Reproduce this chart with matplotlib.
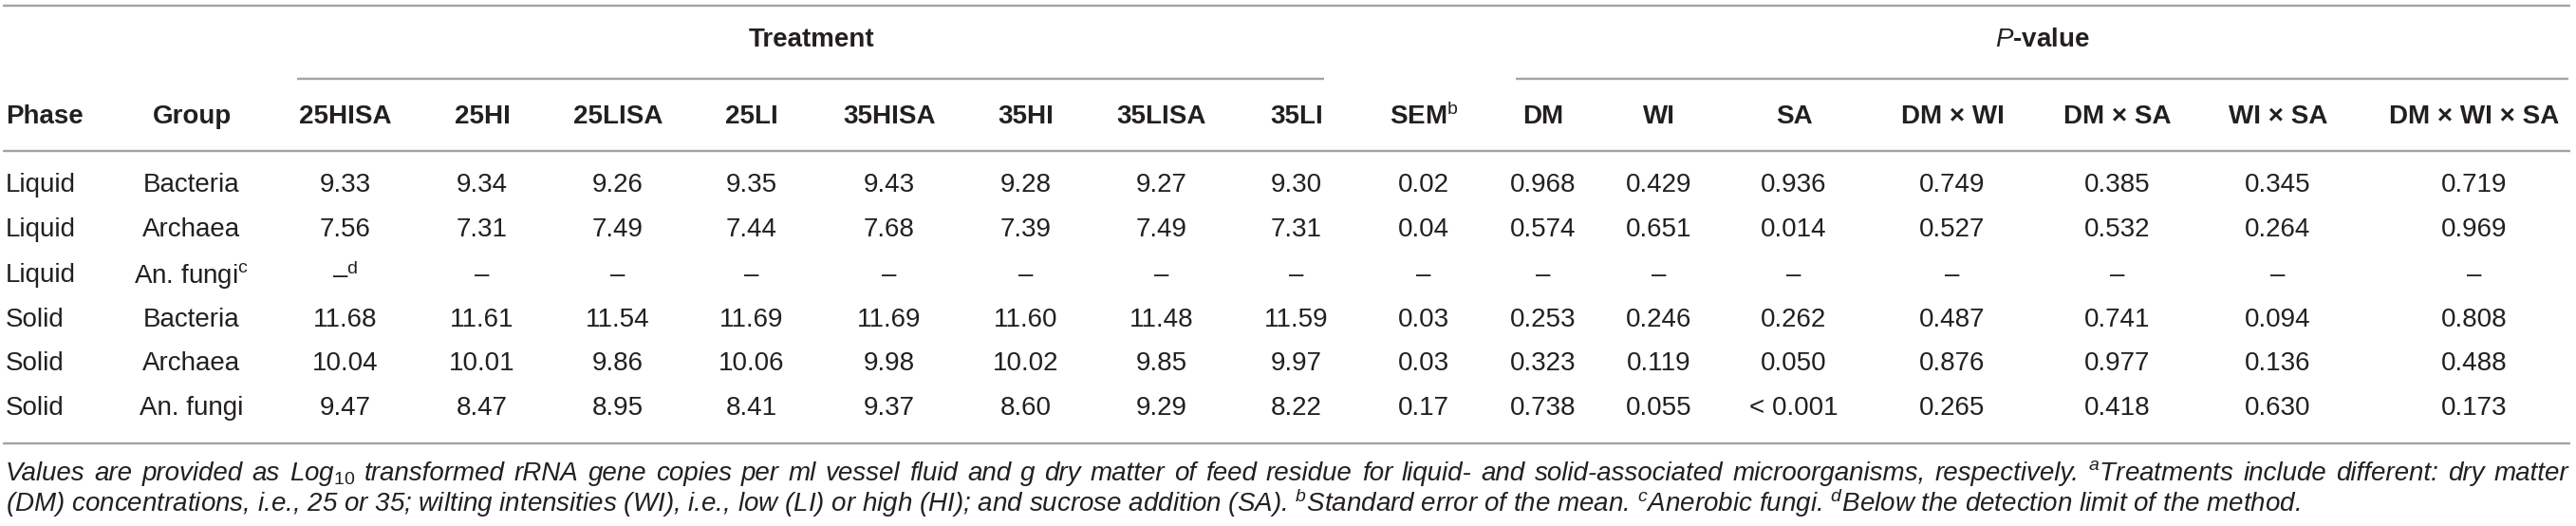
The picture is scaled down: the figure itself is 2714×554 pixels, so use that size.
import matplotlib
matplotlib.use("Agg")
import matplotlib.pyplot as plt

plt.rcParams['font.family'] = ['Liberation Sans', 'DejaVu Sans']
plt.rcParams['mathtext.fontset'] = 'custom'
plt.rcParams['mathtext.rm'] = 'Liberation Sans'
plt.rcParams['mathtext.it'] = 'Liberation Sans:italic'
plt.rcParams['mathtext.bf'] = 'Liberation Sans:bold'

# table data
phases = ["Liquid", "Liquid", "Liquid", "Solid", "Solid", "Solid"]
groups = ["Bacteria", "Archaea", r"An. fungi$^{\mathrm{c}}$", "Bacteria", "Archaea", "An. fungi"]
treatments = ["25HISA", "25HI", "25LISA", "25LI", "35HISA", "35HI", "35LISA", "35LI"]
treat_values = [
    [9.33, 9.34, 9.26, 9.35, 9.43, 9.28, 9.27, 9.30],
    [7.56, 7.31, 7.49, 7.44, 7.68, 7.39, 7.49, 7.31],
    [None] * 8,
    [11.68, 11.61, 11.54, 11.69, 11.69, 11.60, 11.48, 11.59],
    [10.04, 10.01, 9.86, 10.06, 9.98, 10.02, 9.85, 9.97],
    [9.47, 8.47, 8.95, 8.41, 9.37, 8.60, 9.29, 8.22],
]
sem = [0.02, 0.04, None, 0.03, 0.03, 0.17]
p_names = ["DM", "WI", "SA", "DM × WI", "DM × SA", "WI × SA", "DM × WI × SA"]
p_values = [
    ["0.968", "0.429", "0.936", "0.749", "0.385", "0.345", "0.719"],
    ["0.574", "0.651", "0.014", "0.527", "0.532", "0.264", "0.969"],
    ["–", "–", "–", "–", "–", "–", "–"],
    ["0.253", "0.246", "0.262", "0.487", "0.741", "0.094", "0.808"],
    ["0.323", "0.119", "0.050", "0.876", "0.977", "0.136", "0.488"],
    ["0.738", "0.055", "< 0.001", "0.265", "0.418", "0.630", "0.173"],
]
footnote = [
    r"Values are provided as Log$_{\mathit{10}}$ transformed rRNA gene copies per ml vessel fluid and g dry matter "
    r"of feed residue for liquid- and solid-associated microorganisms, respectively. $^{a}$Treatments include different: dry matter",
    r"(DM) concentrations, i.e., 25 or 35; wilting intensities (WI), i.e., low (LI) or high (HI); and sucrose addition (SA). "
    r"$^{b}$Standard error of the mean. $^{c}$Anerobic fungi. $^{d}$Below the detection limit of the method.",
]

# layout (pixels)
W, H = 2714, 554
treat_x = [364, 508, 651, 792, 937, 1081, 1224, 1366]
sem_x = 1500
p_x = [1626, 1748, 1890, 2057, 2231, 2400, 2607]
group_x = 202
row_y = [195, 242, 290, 337, 383, 430]
fs = 20
txt = "#231f20"
line_c = "#a3a3a3"

fig = plt.figure(figsize=(W / 100, H / 100), dpi=100)
ax = fig.add_axes([0, 0, 1, 1])
ax.set_xlim(0, W)
ax.set_ylim(H, 0)
ax.axis("off")

def hline(y, x0, x1):
    ax.plot([x0, x1], [y, y], color=line_c, lw=1.7, solid_capstyle="butt")

hline(6, 3, 2708)
hline(83, 313, 1395)
hline(83, 1597, 2706)
hline(159, 3, 2708)
hline(467, 3, 2708)

# top header
ax.text(855, 42, "Treatment", ha="center", va="center", fontsize=fs, fontweight="bold", color=txt)
ax.text(2152, 42, r"$\mathbf{\mathit{P}}$-value", ha="center", va="center", fontsize=fs,
        fontweight="bold", color=txt)

# column header
hy = 123
ax.text(6, hy, "Phase", ha="left", va="center", fontsize=fs, fontweight="bold", color=txt)
ax.text(group_x, hy, "Group", ha="center", va="center", fontsize=fs, fontweight="bold", color=txt)
for x, name in zip(treat_x, treatments):
    ax.text(x, hy, name, ha="center", va="center", fontsize=fs, fontweight="bold", color=txt)
ax.text(sem_x, hy, r"SEM$^{\mathrm{b}}$", ha="center", va="center", fontsize=fs, fontweight="bold", color=txt)
for x, name in zip(p_x, p_names):
    ax.text(x, hy, name, ha="center", va="center", fontsize=fs, fontweight="bold", color=txt)

# body
for i, y in enumerate(row_y):
    ax.text(6, y, phases[i], ha="left", va="center", fontsize=fs, color=txt)
    ax.text(group_x, y, groups[i], ha="center", va="center", fontsize=fs, color=txt)
    for j, x in enumerate(treat_x):
        v = treat_values[i][j]
        if v is None:
            s = r"–$^{\mathrm{d}}$" if j == 0 else "–"
        else:
            s = f"{v:.2f}"
        ax.text(x, y, s, ha="center", va="center", fontsize=fs, color=txt)
    ax.text(sem_x, y, "–" if sem[i] is None else f"{sem[i]:.2f}", ha="center", va="center",
            fontsize=fs, color=txt)
    for j, x in enumerate(p_x):
        ax.text(x, y, p_values[i][j], ha="center", va="center", fontsize=fs, color=txt)

# footnote: first line justified to the table width, last line left-aligned
renderer = fig.canvas.get_renderer()
words = footnote[0].split(" ")
items = [ax.text(0, 500, w, ha="left", va="baseline", fontsize=fs, style="italic", color=txt)
         for w in words]
widths = [t.get_window_extent(renderer).width for t in items]
gap = (2706 - 6 - sum(widths)) / (len(words) - 1)
x = 6
for t, w in zip(items, widths):
    t.set_position((x, 506))
    x += w + gap
ax.text(6, 539, footnote[1], ha="left", va="baseline", fontsize=fs, style="italic", color=txt)

fig.savefig("out.png", dpi=100)
